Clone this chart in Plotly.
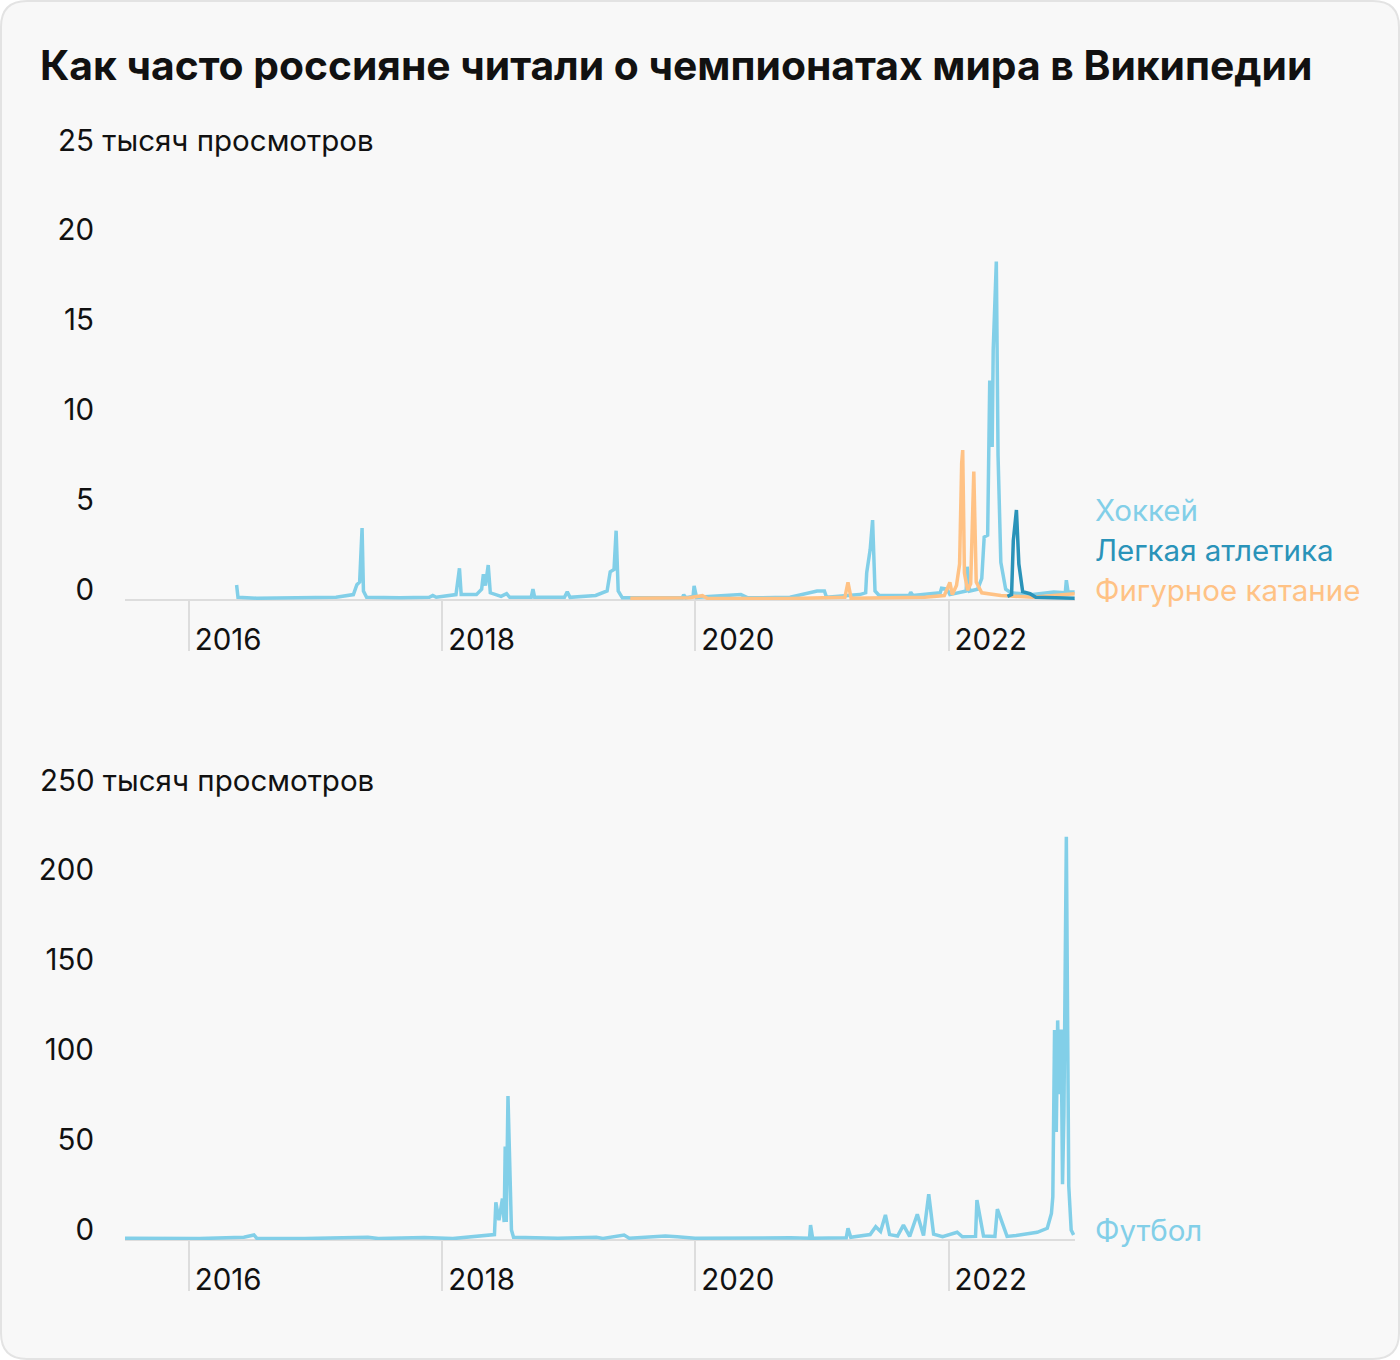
import plotly.graph_objects as go

W, H = 1400, 1360

# ---------------- data (thousand views) ----------------
hockey_dates = ["2016-05-18", "2016-05-22", "2016-07-15", "2016-10-01", "2016-12-20", "2017-03-01",
                "2017-04-20", "2017-04-30", "2017-05-08", "2017-05-15", "2017-05-19", "2017-05-28",
                "2017-09-01", "2017-11-25", "2017-12-05", "2017-12-15", "2018-02-10", "2018-02-20",
                "2018-02-25", "2018-04-10", "2018-04-25", "2018-04-30", "2018-05-06", "2018-05-14",
                "2018-05-20", "2018-06-20", "2018-07-06", "2018-07-15", "2018-09-15", "2018-09-20",
                "2018-09-25", "2018-12-20", "2018-12-28", "2019-01-05", "2019-03-20", "2019-04-22",
                "2019-05-01", "2019-05-12", "2019-05-18", "2019-05-24", "2019-06-05", "2019-09-01",
                "2019-11-25", "2019-11-29", "2019-12-05", "2019-12-26", "2019-12-29", "2020-01-05",
                "2020-03-15", "2020-05-12", "2020-06-01", "2020-10-01", "2020-12-18", "2021-01-08",
                "2021-01-14", "2021-04-20", "2021-05-07", "2021-05-10", "2021-05-20", "2021-05-27",
                "2021-06-03", "2021-06-15", "2021-09-10", "2021-09-14", "2021-09-20", "2021-10-30",
                "2021-12-08", "2021-12-12", "2021-12-28", "2022-01-05", "2022-02-12", "2022-02-21",
                "2022-02-24", "2022-03-03", "2022-03-26", "2022-04-07", "2022-04-14", "2022-04-24",
                "2022-04-30", "2022-05-07", "2022-05-10", "2022-05-19", "2022-05-24", "2022-06-01",
                "2022-06-15", "2022-06-30", "2022-09-01", "2022-11-01", "2022-12-04", "2022-12-07",
                "2022-12-12", "2022-12-31"]
hockey_values = [0.83, 0.15, 0.10, 0.12, 0.10, 0.15,
                 0.30, 0.85, 1.00, 4.00, 0.50, 0.15,
                 0.12, 0.15, 0.25, 0.15, 0.30, 1.76,
                 0.30, 0.30, 0.60, 1.43, 0.80, 1.94,
                 0.40, 0.20, 0.35, 0.15, 0.15, 0.61,
                 0.15, 0.15, 0.46, 0.15, 0.25, 0.50,
                 1.57, 1.70, 3.85, 0.50, 0.12, 0.10,
                 0.12, 0.30, 0.12, 0.20, 0.78, 0.15,
                 0.25, 0.30, 0.12, 0.15, 0.50, 0.50,
                 0.15, 0.30, 0.40, 1.52, 2.80, 4.44,
                 0.50, 0.25, 0.25, 0.43, 0.25, 0.35,
                 0.40, 0.65, 0.60, 0.30, 0.50, 0.50,
                 1.85, 0.50, 0.60, 1.20, 3.50, 3.60,
                 12.2, 8.50, 13.9, 18.8, 8.00, 2.10,
                 0.60, 0.40, 0.30, 0.45, 0.40, 1.10,
                 0.45, 0.45]

skating_dates = ["2019-06-28", "2019-12-15", "2020-01-22", "2020-02-05", "2020-10-01", "2021-03-08",
                 "2021-03-17", "2021-03-26", "2021-10-25", "2021-12-20", "2022-01-05", "2022-01-12",
                 "2022-01-24", "2022-02-02", "2022-02-08", "2022-02-11", "2022-02-16", "2022-02-25",
                 "2022-03-06", "2022-03-15", "2022-03-22", "2022-04-07", "2022-06-01", "2022-09-01",
                 "2022-12-31"]
skating_values = [0.10, 0.12, 0.24, 0.10, 0.08, 0.15,
                  0.98, 0.10, 0.15, 0.25, 0.98, 0.30,
                  0.80, 2.00, 7.60, 8.33, 1.50, 0.55,
                  0.90, 7.13, 1.00, 0.40, 0.25, 0.15,
                  0.35]

athletics_dates = ["2022-06-20", "2022-07-02", "2022-07-07", "2022-07-16", "2022-07-23", "2022-08-03",
                   "2022-08-24", "2022-09-10", "2022-12-31"]
athletics_values = [0.20, 0.30, 3.30, 5.00, 2.00, 0.46,
                    0.35, 0.15, 0.10]

football_dates = ["2015-07-01", "2015-10-01", "2016-02-01", "2016-06-08", "2016-06-20", "2016-07-07",
                  "2016-07-15", "2016-12-01", "2017-06-01", "2017-07-01", "2017-10-08", "2017-11-11",
                  "2018-02-01", "2018-06-01", "2018-06-05", "2018-06-14", "2018-06-24", "2018-06-29",
                  "2018-07-02", "2018-07-05", "2018-07-10", "2018-07-20", "2018-07-26", "2018-12-01",
                  "2019-03-22", "2019-04-10", "2019-06-10", "2019-06-25", "2019-09-02", "2019-10-07",
                  "2019-11-10", "2020-01-01", "2020-10-02", "2020-11-26", "2020-11-29", "2020-12-05",
                  "2021-03-12", "2021-03-17", "2021-03-25", "2021-05-20", "2021-06-05", "2021-06-19",
                  "2021-07-03", "2021-07-15", "2021-08-07", "2021-08-24", "2021-09-11", "2021-10-03",
                  "2021-10-21", "2021-11-05", "2021-11-19", "2021-12-15", "2022-01-26", "2022-02-10",
                  "2022-03-20", "2022-03-24", "2022-04-12", "2022-05-15", "2022-05-22", "2022-05-28",
                  "2022-06-19", "2022-07-15", "2022-09-14", "2022-10-13", "2022-10-25", "2022-10-29",
                  "2022-11-03", "2022-11-08", "2022-11-12", "2022-11-16", "2022-11-22", "2022-11-26",
                  "2022-11-30", "2022-12-07", "2022-12-14", "2022-12-21", "2022-12-28"]
football_values = [1.0, 0.8, 0.8, 1.5, 2.2, 2.8,
                   1.0, 0.8, 1.5, 0.8, 1.3, 1.4,
                   0.8, 3.0, 21.0, 11.0, 23.0, 10.0,
                   52.0, 10.0, 80.0, 5.5, 1.5, 1.0,
                   1.5, 0.9, 2.8, 1.0, 1.8, 2.2,
                   1.8, 1.0, 1.2, 1.0, 8.3, 1.0,
                   1.2, 6.5, 1.5, 3.0, 7.4, 4.7,
                   13.9, 3.0, 2.2, 8.3, 2.0, 14.3,
                   2.5, 25.4, 3.3, 1.8, 4.3, 1.8,
                   2.0, 22.2, 2.2, 2.0, 17.2, 14.0,
                   2.0, 2.5, 4.3, 6.5, 14.8, 24.0,
                   116.7, 60.0, 122.0, 81.0, 117.0, 31.0,
                   70.0, 224.0, 30.0, 5.5, 2.8]

year_ticks = ["2016-01-01", "2018-01-01", "2020-01-01", "2022-01-01"]
year_labels = ["2016", "2018", "2020", "2022"]
top_ticks = [0, 5, 10, 15, 20]
bottom_ticks = [0, 50, 100, 150, 200]

C_HOCKEY = "#82cfe8"
C_ATHL = "#2a93b9"
C_SKATE = "#ffc285"
FONT = "Inter"
TXT = "#111111"
FS = 29.5

# ---------------- helpers for pixel placement ----------------
def px(x):
    return x / W

def py(y):
    return 1 - y / H

LW = 3.5
fig = go.Figure()
fig.add_trace(go.Scatter(x=hockey_dates, y=hockey_values, mode="lines",
                         line=dict(color=C_HOCKEY, width=LW), xaxis="x", yaxis="y"))
fig.add_trace(go.Scatter(x=skating_dates, y=skating_values, mode="lines",
                         line=dict(color=C_SKATE, width=LW), xaxis="x", yaxis="y"))
fig.add_trace(go.Scatter(x=athletics_dates, y=athletics_values, mode="lines",
                         line=dict(color=C_ATHL, width=LW), xaxis="x", yaxis="y"))
fig.add_trace(go.Scatter(x=football_dates, y=football_values, mode="lines",
                         line=dict(color=C_HOCKEY, width=LW), xaxis="x2", yaxis="y2"))

xdom = [px(125), px(1075)]
xcommon = dict(type="date", range=["2015-07-01", "2023-01-01"], domain=xdom,
               tickvals=year_ticks, ticktext=year_labels, ticks="outside", ticklen=50,
               tickwidth=2, tickcolor="#dddddd", showgrid=False, zeroline=False, showline=False,
               ticklabelposition="outside right", ticklabelstandoff=14, ticklabelshift=5,
               tickfont=dict(family=FONT, size=FS, color=TXT), fixedrange=True)
ycommon = dict(showgrid=False, zeroline=True, zerolinecolor="#dddddd", zerolinewidth=2,
               showline=False, ticks="", ticklabelposition="outside top", ticklabelstandoff=30,
               ticklabelshift=10,
               tickfont=dict(family=FONT, size=FS, color=TXT), fixedrange=True)

fig.update_layout(
    width=W, height=H, template="none",
    margin=dict(l=0, r=0, t=0, b=0),
    paper_bgcolor="#ffffff", plot_bgcolor="rgba(0,0,0,0)",
    showlegend=False,
    xaxis=dict(xcommon, anchor="y"),
    yaxis=dict(ycommon, domain=[py(600), py(150)], range=[0, 25], tickvals=top_ticks, anchor="x"),
    xaxis2=dict(xcommon, anchor="y2"),
    yaxis2=dict(ycommon, domain=[py(1240), py(790)], range=[0, 250], tickvals=bottom_ticks, anchor="x2"),
)

# rounded card background
r = 26
x0, x1, y0, y1 = 1, 1399, 1, 1359
path = (f"M {px(x0 + r)},{py(y0)} L {px(x1 - r)},{py(y0)} Q {px(x1)},{py(y0)} {px(x1)},{py(y0 + r)} "
        f"L {px(x1)},{py(y1 - r)} Q {px(x1)},{py(y1)} {px(x1 - r)},{py(y1)} "
        f"L {px(x0 + r)},{py(y1)} Q {px(x0)},{py(y1)} {px(x0)},{py(y1 - r)} "
        f"L {px(x0)},{py(y0 + r)} Q {px(x0)},{py(y0)} {px(x0 + r)},{py(y0)} Z")
fig.add_shape(type="path", path=path, xref="paper", yref="paper", layer="below",
              fillcolor="#f8f8f8", line=dict(color="#e3e3e3", width=2))

def label(text, x, y, color=TXT, size=FS, bold=False):
    fig.add_annotation(text=f"<b>{text}</b>" if bold else text, x=px(x), y=py(y),
                       xref="paper", yref="paper", xanchor="left", yanchor="middle",
                       showarrow=False, font=dict(family=FONT, size=size, color=color))

label("Как часто россияне читали о чемпионатах мира в Википедии", 38, 65, size=40.8, bold=True)
label("25 тысяч просмотров", 56, 140)
label("250 тысяч просмотров", 38, 780)
label("Хоккей", 1093, 510, color=C_HOCKEY)
label("Легкая атлетика", 1093, 550, color=C_ATHL)
label("Фигурное катание", 1093, 590, color=C_SKATE)
label("Футбол", 1093, 1230, color=C_HOCKEY)

fig.write_html("out.html", config={"displayModeBar": False},
               post_script="document.body.style.margin='0';document.body.style.padding='0';"
                           "document.body.style.overflow='hidden';")
